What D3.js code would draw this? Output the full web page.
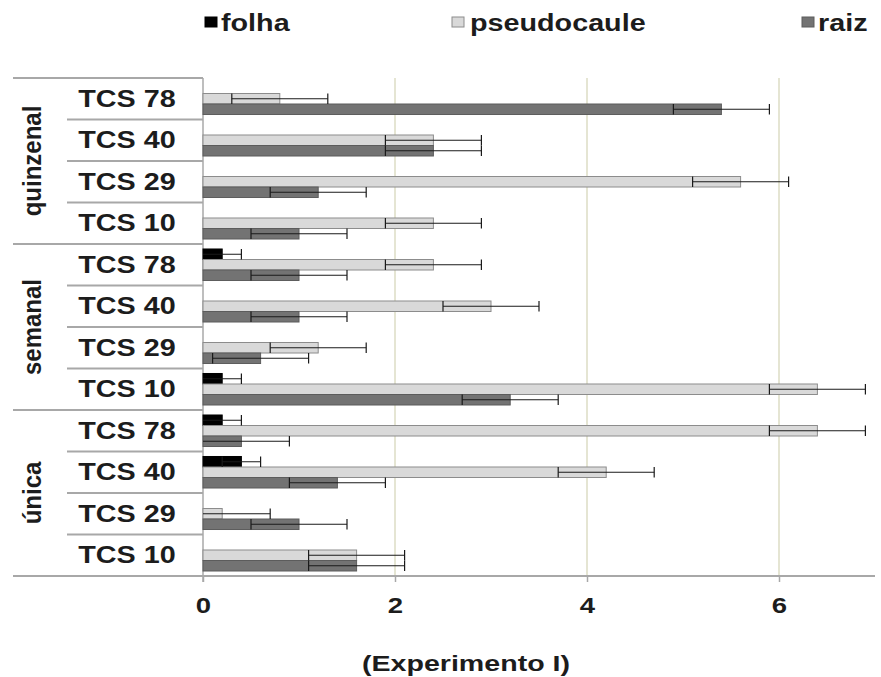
<!DOCTYPE html>
<html>
<head>
<meta charset="utf-8">
<script src="https://cdn.jsdelivr.net/npm/d3@7"></script>
<style>
  html, body { margin: 0; padding: 0; background: #fff; }
  svg { display: block; }
  text { font-family: "Liberation Sans", Arial, sans-serif; font-weight: bold; fill: #1c1c1c; }
</style>
</head>
<body>
<svg id="chart" width="881" height="677"></svg>
<script>
// Harvest intervals, by clone, per plant part (rows listed top to bottom)
const groups = ["quinzenal", "semanal", "única"];
const clones = ["TCS 78", "TCS 40", "TCS 29", "TCS 10"];
const series = ["folha", "pseudocaule", "raiz"];

const folha       = [0, 0, 0, 0,   0.2, 0, 0, 0.2,   0.2, 0.4, 0, 0];
const folhaErr    = [0, 0, 0, 0,   0.2, 0, 0, 0.2,   0.2, 0.2, 0, 0];
const pseudocaule = [0.8, 2.4, 5.6, 2.4,   2.4, 3.0, 1.2, 6.4,   6.4, 4.2, 0.2, 1.6];
const pseudoErr   = [0.5, 0.5, 0.5, 0.5,   0.5, 0.5, 0.5, 0.5,   0.5, 0.5, 0.5, 0.5];
const raiz        = [5.4, 2.4, 1.2, 1.0,   1.0, 1.0, 0.6, 3.2,   0.4, 1.4, 1.0, 1.6];
const raizErr     = [0.5, 0.5, 0.5, 0.5,   0.5, 0.5, 0.5, 0.5,   0.5, 0.5, 0.5, 0.5];

const xTicks = [0, 2, 4, 6];
const xTitle = "(Experimento I)";

const values = { folha: folha, pseudocaule: pseudocaule, raiz: raiz };
const errors = { folha: folhaErr, pseudocaule: pseudoErr, raiz: raizErr };

const fills   = { folha: "#000000", pseudocaule: "#d9d9d9", raiz: "#737373" };
const strokes = { folha: "#000000", pseudocaule: "#8c8c8c", raiz: "#5c5c5c" };

const rows = [];
groups.forEach(g => clones.forEach(c => rows.push({ group: g, clone: c, key: g + "|" + c })));

const svg = d3.select("#chart");
const plotLeft = 203, plotRight = 875, plotTop = 78, plotBottom = 576;
const stretch = 1.25;

const x = d3.scaleLinear().domain([0, 7]).range([plotLeft, plotRight]);
const y = d3.scaleBand().domain(rows.map(r => r.key)).range([plotTop, plotBottom]);
const yInner = d3.scaleBand().domain(series).range([0, y.bandwidth()]).paddingOuter(0.475);

// vertical gridlines
svg.append("g").selectAll("line")
  .data(xTicks.filter(t => t > 0))
  .join("line")
  .attr("x1", d => x(d)).attr("x2", d => x(d))
  .attr("y1", plotTop).attr("y2", plotBottom)
  .attr("stroke", "#dcdcc4").attr("stroke-width", 1.5);

// category table lines
const lineColor = "#a8a8a8";
const tbl = svg.append("g");
rows.forEach((r, i) => {
  const yy = y(r.key);
  const groupStart = i % clones.length === 0;
  tbl.append("line")
    .attr("x1", groupStart ? 13 : 67).attr("x2", plotLeft)
    .attr("y1", yy).attr("y2", yy)
    .attr("stroke", lineColor).attr("stroke-width", 2);
});
tbl.append("line")
  .attr("x1", 13).attr("x2", plotRight)
  .attr("y1", plotBottom).attr("y2", plotBottom)
  .attr("stroke", lineColor).attr("stroke-width", 2);
tbl.append("line")
  .attr("x1", plotLeft).attr("x2", plotLeft)
  .attr("y1", plotTop).attr("y2", plotBottom + 6)
  .attr("stroke", lineColor).attr("stroke-width", 1.5);

// x axis ticks and labels
const xAxis = svg.append("g").attr("transform", `translate(0,${plotBottom})`)
  .call(d3.axisBottom(x).tickValues(xTicks).tickSize(6).tickPadding(0).tickFormat(d3.format("d")));
xAxis.select(".domain").remove();
xAxis.selectAll(".tick line").attr("stroke", lineColor).attr("stroke-width", 1.5);
xAxis.selectAll(".tick text")
  .attr("y", 37).attr("dy", null)
  .attr("font-size", 22)
  .attr("font-family", "Liberation Sans, Arial, sans-serif")
  .attr("font-weight", "bold")
  .attr("fill", "#1c1c1c")
  .attr("transform", `scale(${stretch},1)`)
  .attr("x", 0);

// row (clone) labels
svg.append("g").selectAll("text")
  .data(rows)
  .join("text")
  .attr("text-anchor", "middle")
  .attr("font-size", 23)
  .attr("transform", d => `translate(127,${y(d.key) + y.bandwidth() / 2 + 8}) scale(${stretch},1)`)
  .text(d => d.clone);

// group labels, rotated
svg.append("g").selectAll("text")
  .data(groups)
  .join("text")
  .attr("text-anchor", "middle")
  .attr("font-size", 24)
  .attr("transform", g => {
    const y0 = y(g + "|" + clones[0]);
    const y1 = y(g + "|" + clones[clones.length - 1]) + y.bandwidth();
    return `translate(41,${(y0 + y1) / 2}) scale(1.1,1) rotate(-90)`;
  })
  .text(g => g);

// bars
const barData = [];
rows.forEach((r, i) => series.forEach(s => {
  barData.push({ row: r, series: s, value: values[s][i], err: errors[s][i] });
}));

const bars = svg.append("g");
bars.selectAll("rect")
  .data(barData.filter(d => d.value > 0))
  .join("rect")
  .attr("x", x(0))
  .attr("y", d => y(d.row.key) + yInner(d.series))
  .attr("width", d => x(d.value) - x(0))
  .attr("height", yInner.bandwidth())
  .attr("fill", d => fills[d.series])
  .attr("stroke", d => strokes[d.series])
  .attr("stroke-width", 1);

// error bars
const errG = svg.append("g").attr("stroke", "#1a1a1a").attr("stroke-width", 1.2);
barData.filter(d => d.err > 0).forEach(d => {
  const cy = y(d.row.key) + yInner(d.series) + yInner.bandwidth() / 2;
  const lo = Math.max(0, d.value - d.err);
  const hi = d.value + d.err;
  const cap = yInner.bandwidth() / 2;
  errG.append("line").attr("x1", x(lo)).attr("x2", x(hi)).attr("y1", cy).attr("y2", cy);
  errG.append("line").attr("x1", x(hi)).attr("x2", x(hi)).attr("y1", cy - cap).attr("y2", cy + cap);
  if (d.value - d.err > 0) {
    errG.append("line").attr("x1", x(lo)).attr("x2", x(lo)).attr("y1", cy - cap).attr("y2", cy + cap);
  }
});

// legend
const legendPos = [
  { s: "folha", bx: 205, tx: 221 },
  { s: "pseudocaule", bx: 452, tx: 470 },
  { s: "raiz", bx: 802, tx: 818 }
];
const legend = svg.append("g");
legendPos.forEach(p => {
  legend.append("rect")
    .attr("x", p.bx).attr("y", 17).attr("width", 12).attr("height", 10)
    .attr("fill", fills[p.s]).attr("stroke", strokes[p.s]).attr("stroke-width", 1);
  legend.append("text")
    .attr("font-size", 23)
    .attr("transform", `translate(${p.tx},31) scale(${stretch},1)`)
    .text(p.s);
});

// axis title
svg.append("text")
  .attr("text-anchor", "middle")
  .attr("font-size", 22)
  .attr("transform", `translate(466,671) scale(1.3,1)`)
  .text(xTitle);
</script>
</body>
</html>
